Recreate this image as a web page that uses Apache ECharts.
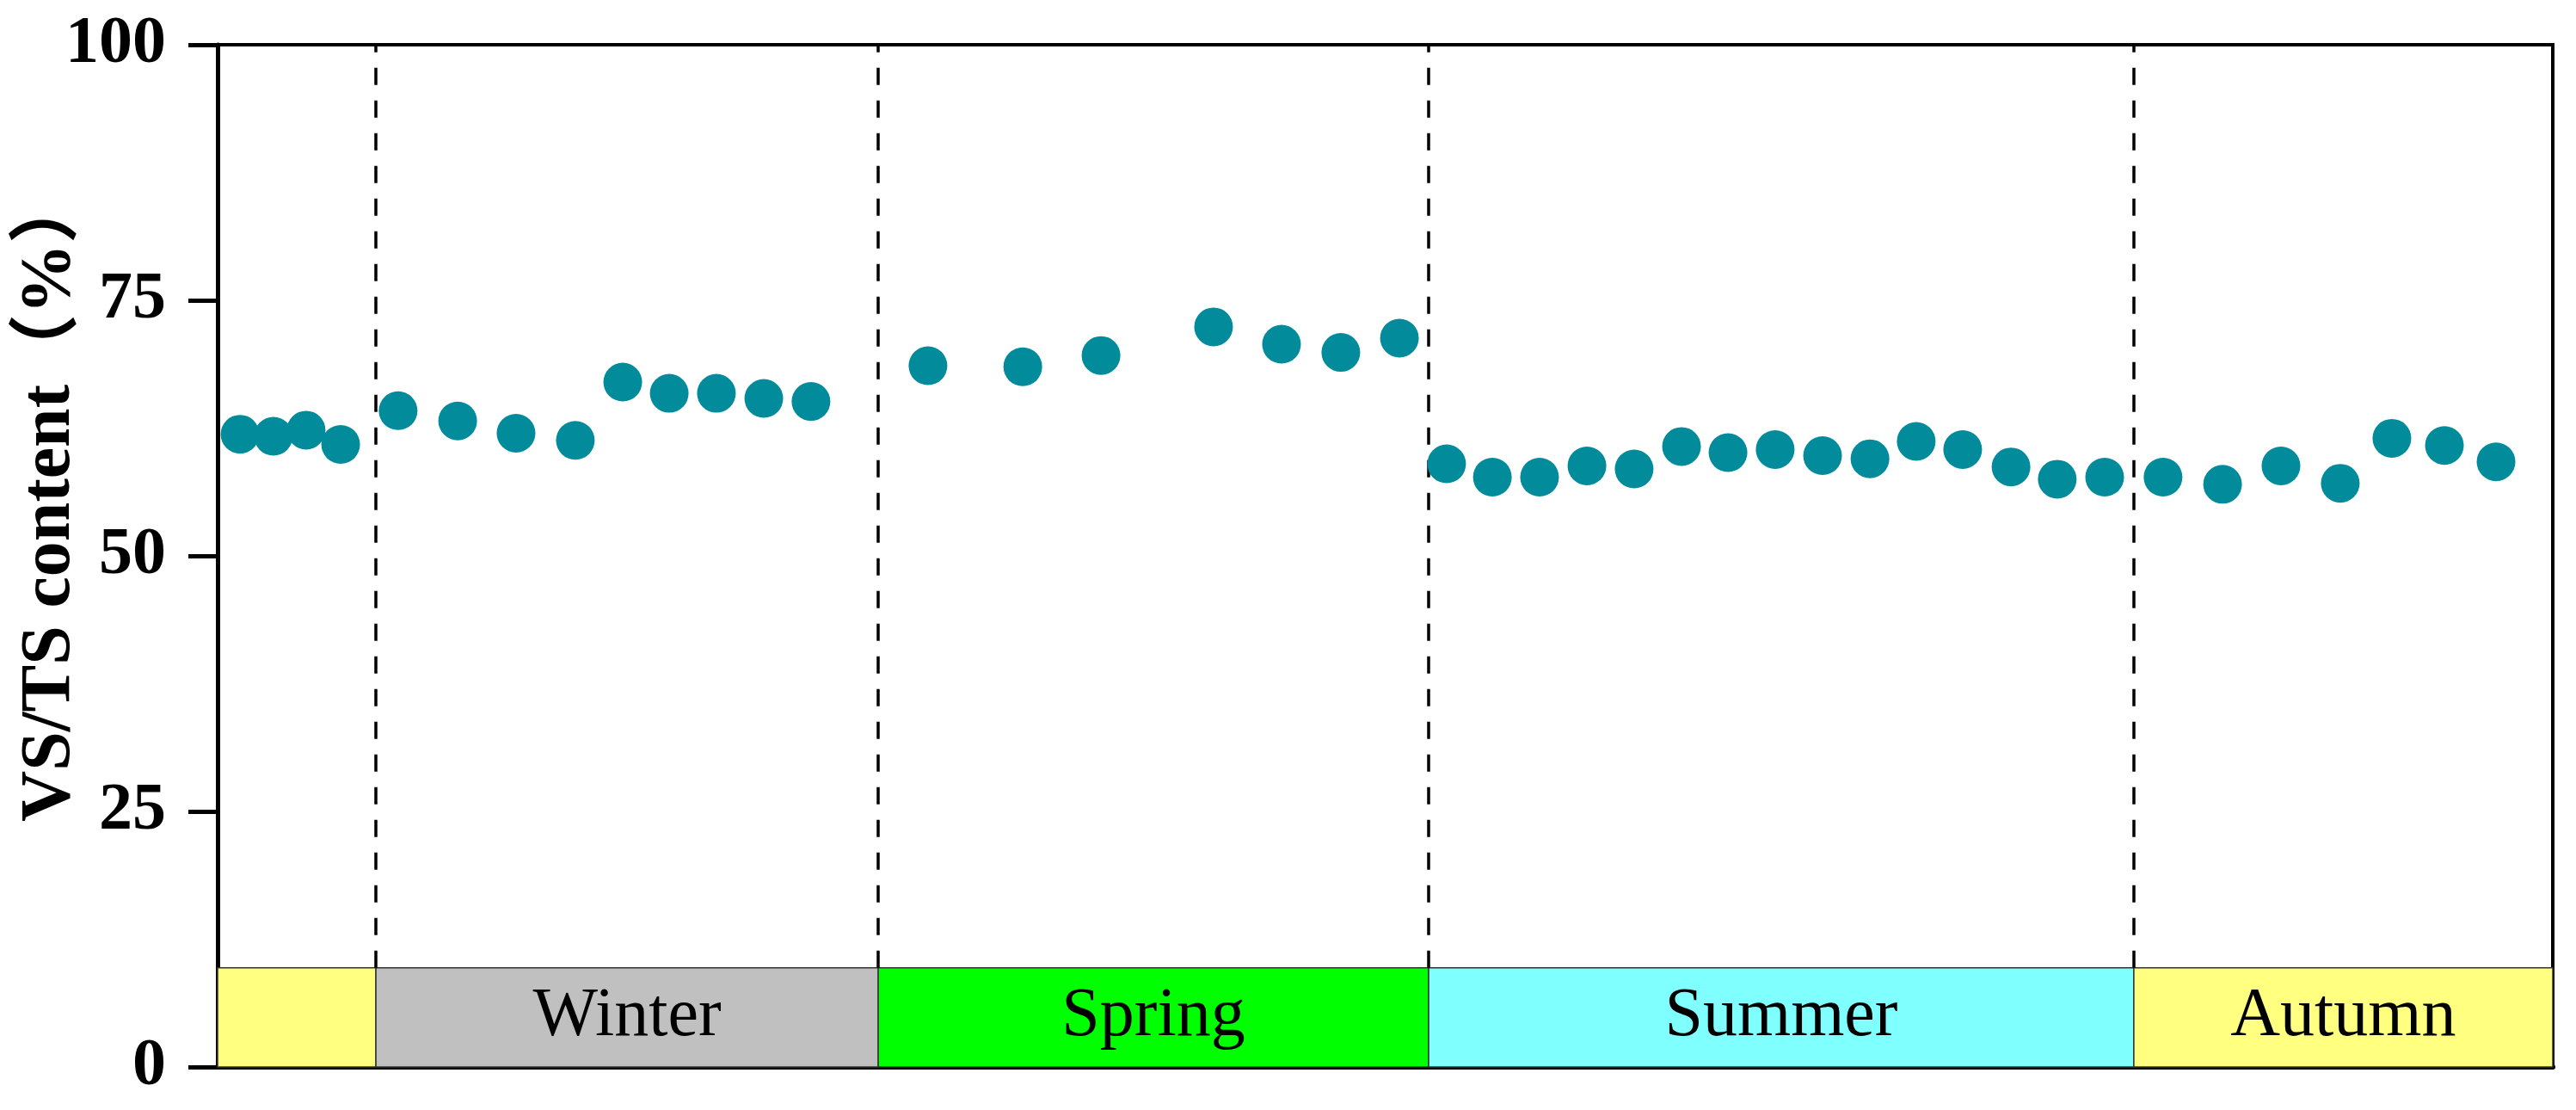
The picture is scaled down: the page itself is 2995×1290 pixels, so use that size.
<!DOCTYPE html>
<html>
<head>
<meta charset="utf-8">
<script src="https://cdn.jsdelivr.net/npm/echarts@6/dist/echarts.min.js"></script>
<style>
  html, body { margin: 0; padding: 0; background: #fff; }
  #main { width: 2995px; height: 1290px; }
</style>
</head>
<body>
<div id="main"></div>
<script>
// sample position along the sampling period (0-100) and VS/TS value (%)
const samplePos = [0.96, 2.39, 3.79, 5.27, 7.73, 10.28, 12.78, 15.32, 17.35, 19.34, 21.36, 23.39, 25.41,
  30.42, 34.48, 37.83, 42.65, 45.56, 48.10, 50.61,
  52.63, 54.59, 56.61, 58.64, 60.66, 62.69, 64.68, 66.70, 68.73, 70.76, 72.74, 74.73, 76.80, 78.78, 80.81,
  83.31, 85.86, 88.36, 90.90, 93.11, 95.36, 97.57];
const vsts = [61.9, 61.7, 62.3, 60.9, 64.2, 63.2, 62.0, 61.3, 67.0, 65.9, 65.9, 65.4, 65.1,
  68.6, 68.5, 69.6, 72.4, 70.7, 69.9, 71.3,
  59.0, 57.7, 57.7, 58.8, 58.5, 60.7, 60.1, 60.4, 59.8, 59.5, 61.2, 60.4, 58.7, 57.5, 57.7,
  57.7, 57.0, 58.8, 57.1, 61.5, 60.8, 59.2];

// season bands
const seasonNames = ['', 'Winter', 'Spring', 'Summer', 'Autumn'];
const seasonStart = [0, 6.78, 28.29, 51.86, 82.06];
const seasonEnd = [6.78, 28.29, 51.86, 82.06, 100];
const seasonColors = ['#ffff80', '#c0c0c0', '#00ff00', '#80ffff', '#ffff80'];
const bandTop = 9.7;
const yTicks = [0, 25, 50, 75, 100];
const yTitle = 'VS/TS content（%）';

const chartDom = document.getElementById('main');
const myChart = echarts.init(chartDom);

const points = samplePos.map((x, i) => [x, vsts[i]]);

const areas = seasonNames.map((name, i) => [
  {
    name: name,
    xAxis: seasonStart[i],
    yAxis: 0,
    itemStyle: { color: seasonColors[i], borderColor: '#333', borderWidth: 1.5 }
  },
  { xAxis: seasonEnd[i], yAxis: bandTop }
]);

// dashed separators between the seasons
const seps = seasonStart.slice(1).map(x => [
  { coord: [x, bandTop] },
  { coord: [x, 100] }
]);

const option = {
  backgroundColor: '#fff',
  animation: false,
  // y title sits a bit above the axis middle in the original, so draw it as graphic text
  graphic: [
    {
      type: 'text',
      x: 59,
      y: 578,
      rotation: Math.PI / 2,
      style: {
        text: yTitle,
        font: 'bold 82px "Liberation Serif", "Noto Sans CJK SC", serif',
        fill: '#000',
        align: 'center',
        verticalAlign: 'middle'
      }
    }
  ],
  grid: {
    left: 253,
    right: 27,
    top: 52,
    bottom: 50,
    outerBoundsMode: 'none',
    containLabel: false,
    show: true,
    borderColor: '#000',
    borderWidth: 4
  },
  xAxis: {
    type: 'value',
    min: 0,
    max: 100,
    axisLine: { show: true, onZero: false, lineStyle: { color: '#000', width: 6 } },
    axisTick: { show: false },
    axisLabel: { show: false },
    splitLine: { show: false }
  },
  yAxis: {
    type: 'value',
    min: yTicks[0],
    max: yTicks[yTicks.length - 1],
    interval: 25,
    axisLine: { show: true, lineStyle: { color: '#000', width: 5 } },
    axisTick: { show: true, inside: false, length: 34, lineStyle: { color: '#000', width: 5 } },
    axisLabel: {
      margin: 60,
      fontFamily: 'Liberation Serif, serif',
      fontWeight: 'bold',
      fontSize: 78,
      color: '#000'
    },
    splitLine: { show: false }
  },
  series: [
    {
      name: 'VS/TS',
      type: 'scatter',
      data: points,
      symbol: 'circle',
      symbolSize: 45,
      itemStyle: { color: '#028b9b', opacity: 1 },
      z: 5,
      markArea: {
        silent: true,
        label: {
          show: true,
          position: 'inside',
          fontFamily: 'Liberation Serif, serif',
          fontSize: 80,
          color: '#000'
        },
        data: areas
      },
      markLine: {
        silent: true,
        symbol: ['none', 'none'],
        label: { show: false },
        lineStyle: { color: '#000', width: 3.5, type: [20, 18] },
        data: seps
      }
    }
  ]
};

option && myChart.setOption(option);
</script>
</body>
</html>
